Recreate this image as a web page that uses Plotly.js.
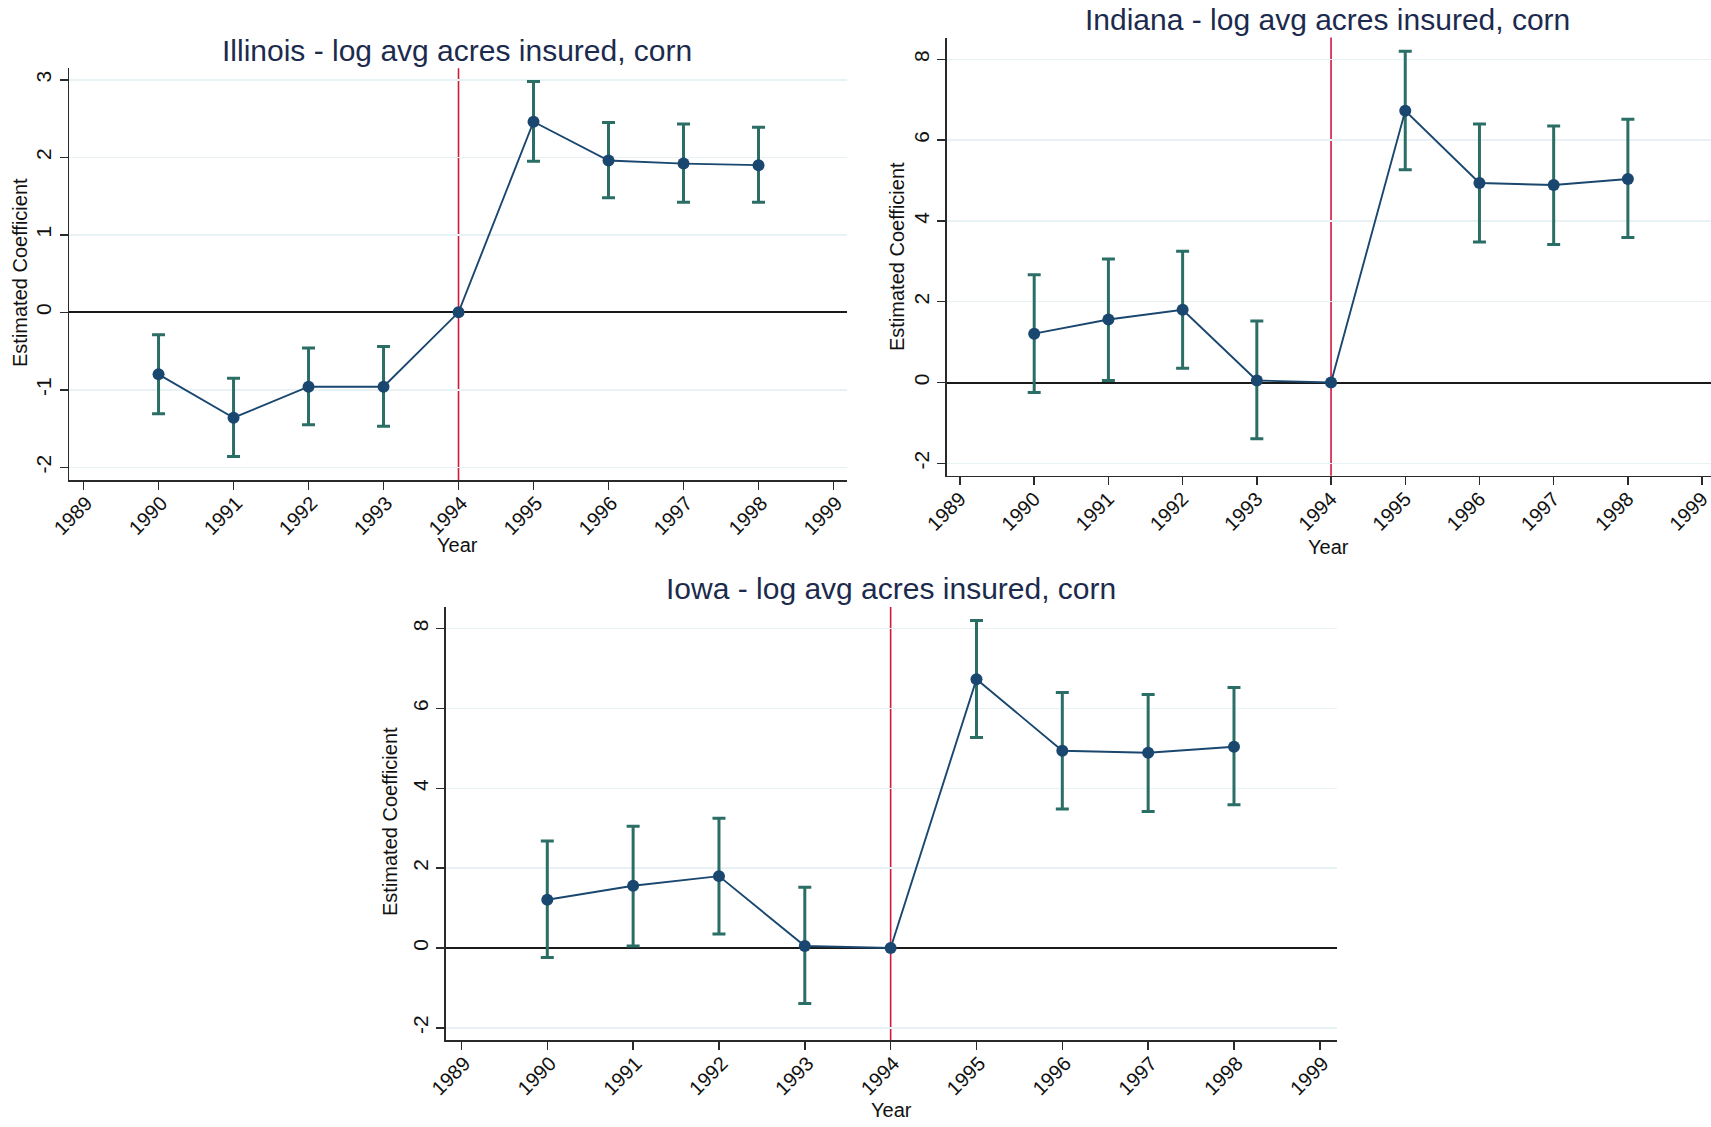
<!DOCTYPE html>
<html>
<head>
<meta charset="utf-8">
<script src="https://cdn.plot.ly/plotly-3.0.1.min.js"></script>
<style>
  html, body { margin: 0; padding: 0; background: #ffffff; }
  #chart { width: 1711px; height: 1127px; }
</style>
</head>
<body>
<div id="chart"></div>
<script>
// ---------------- data ----------------
const years = [1990, 1991, 1992, 1993, 1994, 1995, 1996, 1997, 1998];
const eventYear = 1994;
const xTickYears = [1989, 1990, 1991, 1992, 1993, 1994, 1995, 1996, 1997, 1998, 1999];

const illinoisCoef = [-0.80, -1.36, -0.96, -0.96, 0.00, 2.46, 1.96, 1.92, 1.90];
const illinoisLo   = [-1.31, -1.86, -1.45, -1.47, null, 1.95, 1.48, 1.42, 1.42];
const illinoisHi   = [-0.29, -0.85, -0.46, -0.44, null, 2.98, 2.45, 2.43, 2.39];

const indianaCoef = [1.21, 1.56, 1.80, 0.05, 0.00, 6.73, 4.94, 4.89, 5.04];
const indianaLo   = [-0.25, 0.05, 0.35, -1.39, null, 5.27, 3.48, 3.42, 3.59];
const indianaHi   = [2.67, 3.06, 3.25, 1.52, null, 8.20, 6.40, 6.35, 6.52];

const iowaCoef = [1.21, 1.56, 1.80, 0.05, 0.00, 6.73, 4.94, 4.89, 5.04];
const iowaLo   = [-0.24, 0.05, 0.35, -1.39, null, 5.27, 3.48, 3.42, 3.59];
const iowaHi   = [2.68, 3.05, 3.25, 1.52, null, 8.20, 6.40, 6.35, 6.52];

const panelTitles = [
  "Illinois - log avg acres insured, corn",
  "Indiana - log avg acres insured, corn",
  "Iowa - log avg acres insured, corn"
];
const yTitle = "Estimated Coefficient";
const xTitle = "Year";

// ---------------- styling ----------------
const FONT = "Liberation Sans, Arial, sans-serif";
const NAVY = "#1a476f";
const TEAL = "#2b6e66";
const RED = "#d1183e";
const GRID = "#e8f1f3";
const AXIS = "#2a2a2a";
const TITLE_C = "#1c2b4d";

const W = 1711, H = 1127;
function px2x(p) { return p / W; }
function py2y(p) { return 1 - p / H; }

const panels = [
  { coef: illinoisCoef, lo: illinoisLo, hi: illinoisHi, title: panelTitles[0],
    xd: [69.3, 847], yd: [68.3, 480], xr: [1988.81, 1999.18], yr: [-2.164, 3.15],
    ytv: [-2, -1, 0, 1, 2, 3], shift: 3,
    titlePos: [457, 51], yTitlePos: [20, 273], xTitlePos: [457, 545] },
  { coef: indianaCoef, lo: indianaLo, hi: indianaHi, title: panelTitles[1],
    xd: [947, 1711], yd: [37.6, 475.8], xr: [1988.825, 1999.12], yr: [-2.31, 8.54],
    ytv: [-2, 0, 2, 4, 6, 8], shift: 0,
    titlePos: [1327, 20], yTitlePos: [897, 256], xTitlePos: [1328, 547] },
  { coef: iowaCoef, lo: iowaLo, hi: iowaHi, title: panelTitles[2],
    xd: [446, 1337], yd: [606.9, 1040.3], xr: [1988.82, 1999.2], yr: [-2.31, 8.54],
    ytv: [-2, 0, 2, 4, 6, 8], shift: 3,
    titlePos: [891, 588], yTitlePos: [390, 822], xTitlePos: [891, 1110] }
];

const traces = [];
const layout = {
  width: W, height: H,
  margin: { l: 0, r: 0, t: 0, b: 0, pad: 0 },
  paper_bgcolor: "#ffffff",
  plot_bgcolor: "#ffffff",
  showlegend: false,
  font: { family: FONT, color: "#111111" },
  shapes: [],
  annotations: []
};

panels.forEach((p, i) => {
  const n = i + 1;
  const xa = n === 1 ? "x" : "x" + n;
  const ya = n === 1 ? "y" : "y" + n;
  const xk = n === 1 ? "xaxis" : "xaxis" + n;
  const yk = n === 1 ? "yaxis" : "yaxis" + n;

  // confidence intervals (only where defined)
  const ciX = [], ciY = [], ePlus = [], eMinus = [];
  years.forEach((yr, j) => {
    if (p.hi[j] !== null && p.lo[j] !== null) {
      ciX.push(yr); ciY.push(p.coef[j]);
      ePlus.push(p.hi[j] - p.coef[j]);
      eMinus.push(p.coef[j] - p.lo[j]);
    }
  });
  traces.push({
    type: "scatter", mode: "markers", x: ciX, y: ciY, xaxis: xa, yaxis: ya,
    marker: { size: 1, opacity: 0 },
    error_y: { type: "data", symmetric: false, array: ePlus, arrayminus: eMinus,
               color: TEAL, thickness: 3, width: 6.5 },
    hoverinfo: "skip"
  });
  traces.push({
    type: "scatter", mode: "lines+markers", x: years, y: p.coef, xaxis: xa, yaxis: ya,
    line: { color: NAVY, width: 1.9 },
    marker: { color: NAVY, size: 12 },
    cliponaxis: false
  });

  layout[xk] = {
    domain: [px2x(p.xd[0]), px2x(p.xd[1])],
    range: p.xr, anchor: ya, automargin: false,
    tickmode: "array", tickvals: xTickYears, ticktext: xTickYears.map(String),
    tickangle: -45, ticks: "outside", ticklen: 8, tickwidth: 1.5, tickcolor: AXIS,
    tickfont: { family: FONT, size: 20, color: "#111111" },
    ticklabelstandoff: -6, ticklabelshift: p.shift, ticklabeloverflow: "allow",
    showline: true, linecolor: AXIS, linewidth: 1.6, mirror: false,
    showgrid: false, zeroline: false, fixedrange: true
  };
  layout[yk] = {
    domain: [py2y(p.yd[1]), py2y(p.yd[0])],
    range: p.yr, anchor: xa, automargin: false,
    tickmode: "array", tickvals: p.ytv, ticktext: p.ytv.map(String),
    tickangle: -90, ticks: "outside", ticklen: 8, tickwidth: 1.5, tickcolor: AXIS,
    tickfont: { family: FONT, size: 21, color: "#111111" },
    ticklabeloverflow: "allow",
    showline: true, linecolor: AXIS, linewidth: 1.6, mirror: false,
    showgrid: true, gridcolor: GRID, gridwidth: 1.5,
    zeroline: true, zerolinecolor: "#1a1a1a", zerolinewidth: 2,
    fixedrange: true
  };

  layout.shapes.push({
    type: "line", xref: xa, yref: ya + " domain",
    x0: eventYear, x1: eventYear, y0: 0, y1: 1,
    line: { color: RED, width: 1.6 }, layer: "below"
  });

  layout.annotations.push({
    text: p.title, xref: "paper", yref: "paper",
    x: px2x(p.titlePos[0]), y: py2y(p.titlePos[1]),
    xanchor: "center", yanchor: "middle", showarrow: false,
    font: { family: FONT, size: 30, color: TITLE_C }
  });
  layout.annotations.push({
    text: yTitle, xref: "paper", yref: "paper",
    x: px2x(p.yTitlePos[0]), y: py2y(p.yTitlePos[1]),
    xanchor: "center", yanchor: "middle", showarrow: false, textangle: -90,
    font: { family: FONT, size: 20, color: "#111111" }
  });
  layout.annotations.push({
    text: xTitle, xref: "paper", yref: "paper",
    x: px2x(p.xTitlePos[0]), y: py2y(p.xTitlePos[1]),
    xanchor: "center", yanchor: "middle", showarrow: false,
    font: { family: FONT, size: 20, color: "#111111" }
  });
});

Plotly.newPlot("chart", traces, layout, { displayModeBar: false, staticPlot: true });
</script>
</body>
</html>
